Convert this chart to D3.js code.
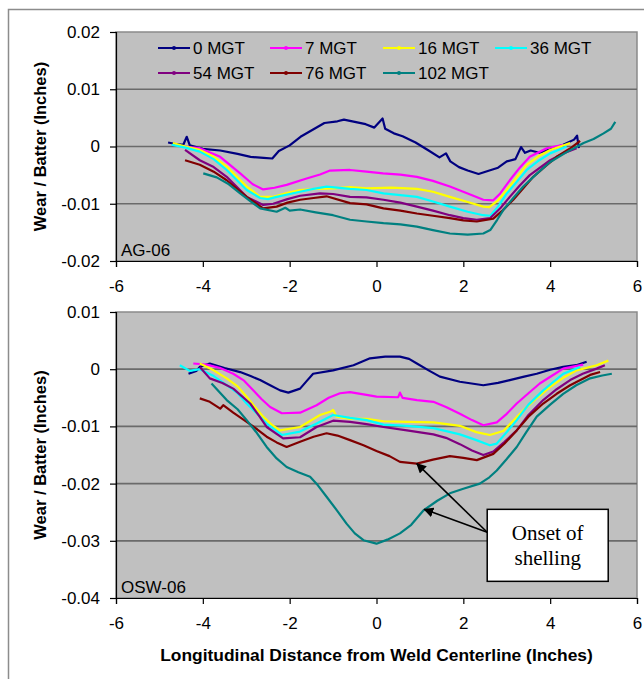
<!DOCTYPE html>
<html>
<head>
<meta charset="utf-8">
<script src="https://cdn.jsdelivr.net/npm/d3@7"></script>
<style>
  body { margin: 0; background: #fff; }
  svg { display: block; font-family: "Liberation Sans", Arial, sans-serif; }
</style>
</head>
<body>
<svg id="chart" width="644" height="679"></svg>
<script>
"use strict";

const seriesNames = ["0 MGT", "7 MGT", "16 MGT", "36 MGT", "54 MGT", "76 MGT", "102 MGT"];
const seriesColors = ["#000080", "#FF00FF", "#FFFF00", "#00FFFF", "#800080", "#800000", "#008080"];

const xTicks = [-6, -4, -2, 0, 2, 4, 6];
const xTickLabels = ["-6", "-4", "-2", "0", "2", "4", "6"];
const agTicks = [0.02, 0.01, 0, -0.01, -0.02];
const agTickLabels = ["0.02", "0.01", "0", "-0.01", "-0.02"];
const oswTicks = [0.01, 0, -0.01, -0.02, -0.03, -0.04];
const oswTickLabels = ["0.01", "0", "-0.01", "-0.02", "-0.03", "-0.04"];

// AG-06 profiles, [distance in, wear in]
const ag06_0 = [[-4.8,0.0007],[-4.6,0.0004],[-4.45,0.0003],[-4.37,0.0017],[-4.3,0.0002],[-4.0,-0.0004],[-3.6,-0.0007],[-3.2,-0.0013],[-2.9,-0.0018],[-2.6,-0.002],[-2.4,-0.0021],[-2.25,-0.0008],[-2.0,0.0002],[-1.75,0.0017],[-1.5,0.0028],[-1.2,0.0041],[-0.9,0.0044],[-0.75,0.0047],[-0.5,0.0043],[-0.25,0.0039],[-0.05,0.0033],[0.14,0.0049],[0.2,0.0031],[0.4,0.0023],[0.6,0.0018],[0.9,0.0007],[1.2,-0.0007],[1.45,-0.0019],[1.6,-0.0012],[1.7,-0.0026],[1.9,-0.0036],[2.1,-0.0042],[2.35,-0.0048],[2.6,-0.0042],[2.8,-0.0037],[3.0,-0.0026],[3.2,-0.0022],[3.33,-0.0001],[3.42,-0.0011],[3.55,-0.0007],[3.75,-0.0011],[4.0,-0.0005],[4.3,0.0003],[4.55,0.0012],[4.62,0.0019],[4.66,-0.0003]];
const ag06_7 = [[-4.45,0.0],[-4.07,-0.0003],[-3.6,-0.0018],[-3.14,-0.0047],[-2.85,-0.0066],[-2.61,-0.0075],[-2.35,-0.0072],[-2.07,-0.0067],[-1.61,-0.0056],[-1.3,-0.0049],[-1.07,-0.0042],[-0.61,-0.0041],[-0.23,-0.0044],[0.15,-0.0047],[0.55,-0.0049],[0.93,-0.0053],[1.3,-0.006],[1.69,-0.007],[2.1,-0.0082],[2.46,-0.0093],[2.69,-0.0094],[2.85,-0.0082],[3.07,-0.0059],[3.3,-0.0037],[3.53,-0.0018],[3.92,-0.0003],[4.3,0.0003]];
const ag06_16 = [[-4.69,0.0006],[-4.4,0.0],[-4.07,-0.0006],[-3.75,-0.0018],[-3.45,-0.0035],[-2.99,-0.007],[-2.68,-0.0088],[-2.38,-0.0088],[-2.05,-0.0081],[-1.76,-0.0076],[-1.4,-0.0074],[-1.0,-0.0073],[-0.61,-0.0071],[-0.23,-0.0073],[0.35,-0.0072],[0.93,-0.0074],[1.3,-0.0079],[1.69,-0.0088],[2.1,-0.0097],[2.46,-0.0105],[2.6,-0.0106],[2.8,-0.0094],[3.0,-0.0076],[3.25,-0.0052],[3.46,-0.0032],[3.75,-0.0016],[4.0,-0.0006],[4.46,0.0006]];
const ag06_36 = [[-4.72,0.0003],[-4.4,-0.0002],[-4.07,-0.0009],[-3.75,-0.0022],[-3.45,-0.0041],[-2.99,-0.0076],[-2.68,-0.009],[-2.5,-0.0092],[-2.3,-0.0088],[-1.76,-0.0079],[-1.45,-0.0074],[-1.15,-0.007],[-0.61,-0.0074],[-0.23,-0.0076],[0.16,-0.0082],[0.55,-0.0085],[0.93,-0.0088],[1.3,-0.0096],[1.69,-0.0105],[2.1,-0.0114],[2.46,-0.012],[2.62,-0.0121],[2.8,-0.0105],[3.0,-0.0082],[3.25,-0.006],[3.46,-0.0041],[3.75,-0.0024],[4.0,-0.0012],[4.38,0.0]];
const ag06_54 = [[-4.41,-0.0006],[-4.07,-0.0024],[-3.75,-0.0036],[-3.45,-0.0053],[-2.99,-0.0088],[-2.61,-0.0102],[-2.38,-0.01],[-2.05,-0.0092],[-1.76,-0.0086],[-1.3,-0.0082],[-1.0,-0.0083],[-0.61,-0.0088],[-0.23,-0.0089],[0.16,-0.0093],[0.55,-0.0098],[0.93,-0.0105],[1.3,-0.0112],[1.69,-0.012],[2.0,-0.0125],[2.31,-0.0128],[2.62,-0.0125],[2.85,-0.0108],[3.07,-0.0088],[3.3,-0.0068],[3.53,-0.005],[4.0,-0.0024],[4.3,-0.0012],[4.61,-0.0003]];
const ag06_76 = [[-4.41,-0.0024],[-4.07,-0.0032],[-3.75,-0.0044],[-3.45,-0.0059],[-2.99,-0.0088],[-2.61,-0.0108],[-2.3,-0.0105],[-2.05,-0.0098],[-1.76,-0.0093],[-1.45,-0.009],[-1.15,-0.0087],[-0.61,-0.0099],[-0.23,-0.0101],[0.16,-0.0108],[0.55,-0.0112],[0.93,-0.0117],[1.3,-0.0121],[1.69,-0.0125],[2.0,-0.0129],[2.31,-0.0131],[2.69,-0.0126],[2.9,-0.0112],[3.15,-0.0093],[3.38,-0.0073],[3.61,-0.0053],[3.9,-0.0034],[4.15,-0.0018],[4.45,-0.0004],[4.69,0.001]];
const ag06_102 = [[-3.99,-0.0047],[-3.68,-0.0054],[-3.4,-0.0066],[-3.14,-0.0082],[-2.9,-0.0096],[-2.68,-0.0108],[-2.3,-0.0114],[-2.1,-0.0107],[-2.0,-0.0112],[-1.76,-0.011],[-1.4,-0.0115],[-1.0,-0.012],[-0.61,-0.0128],[-0.23,-0.0131],[0.16,-0.0134],[0.55,-0.0136],[0.93,-0.014],[1.3,-0.0146],[1.69,-0.0152],[2.1,-0.0154],[2.46,-0.0152],[2.62,-0.0146],[2.78,-0.0128],[2.92,-0.0111],[3.15,-0.009],[3.38,-0.007],[3.7,-0.0047],[4.0,-0.0027],[4.4,-0.0009],[4.77,0.0006],[5.0,0.0013],[5.23,0.0023],[5.4,0.0031],[5.5,0.0043]];

// OSW-06 profiles, [distance in, wear in]
const osw06_0 = [[-4.33,-0.0008],[-4.15,-0.0003],[-4.07,0.0004],[-3.84,0.001],[-3.5,0.0002],[-3.14,-0.0005],[-2.9,-0.0012],[-2.68,-0.0019],[-2.45,-0.0028],[-2.22,-0.0037],[-2.03,-0.0041],[-1.76,-0.0034],[-1.6,-0.002],[-1.46,-0.0008],[-1.0,-0.0002],[-0.53,0.0007],[-0.15,0.0019],[0.2,0.0022],[0.54,0.0022],[0.75,0.0018],[0.93,0.001],[1.2,-0.0002],[1.46,-0.0013],[1.92,-0.0022],[2.46,-0.0028],[2.8,-0.0024],[3.07,-0.0019],[3.4,-0.0013],[3.69,-0.0008],[4.0,-0.0001],[4.3,0.0004],[4.6,0.0007],[4.84,0.0013]];
const osw06_7 = [[-4.22,0.001],[-3.91,0.0008],[-3.6,0.0002],[-3.3,-0.0008],[-3.05,-0.002],[-2.84,-0.0037],[-2.65,-0.0052],[-2.45,-0.0066],[-2.18,-0.0077],[-1.76,-0.0076],[-1.38,-0.0063],[-1.1,-0.005],[-0.84,-0.0042],[-0.61,-0.004],[-0.23,-0.0045],[0.0,-0.0048],[0.5,-0.0049],[0.54,-0.0041],[0.6,-0.005],[0.93,-0.0054],[1.31,-0.0057],[1.6,-0.0066],[1.92,-0.0078],[2.2,-0.0089],[2.46,-0.0098],[2.77,-0.0093],[3.0,-0.0078],[3.23,-0.006],[3.5,-0.0042],[3.76,-0.0025],[4.05,-0.0011],[4.3,0.0001],[4.76,0.0008]];
const osw06_16 = [[-4.07,0.001],[-3.75,-0.0002],[-3.45,-0.0016],[-3.2,-0.003],[-2.99,-0.0048],[-2.8,-0.0066],[-2.61,-0.0083],[-2.4,-0.0098],[-2.22,-0.0107],[-1.76,-0.0101],[-1.3,-0.008],[-1.05,-0.0074],[-1.0,-0.0071],[-0.92,-0.0083],[-0.61,-0.0087],[-0.23,-0.0087],[0.16,-0.0091],[0.7,-0.0092],[1.31,-0.0093],[1.92,-0.0099],[2.3,-0.011],[2.61,-0.0115],[2.92,-0.0108],[3.15,-0.009],[3.38,-0.0072],[3.7,-0.005],[4.0,-0.0031],[4.3,-0.0015],[4.61,-0.0002],[5.07,0.0007],[5.34,0.0015]];
const osw06_36 = [[-4.53,0.0007],[-4.3,-0.0003],[-4.07,0.0],[-3.75,-0.0012],[-3.45,-0.0028],[-3.2,-0.0042],[-2.99,-0.006],[-2.75,-0.0078],[-2.53,-0.0095],[-2.18,-0.0115],[-1.76,-0.0109],[-1.38,-0.0095],[-1.0,-0.008],[-0.61,-0.0085],[-0.23,-0.0089],[0.16,-0.0097],[0.7,-0.0099],[1.31,-0.0103],[1.92,-0.0114],[2.3,-0.0124],[2.61,-0.0133],[2.77,-0.013],[3.0,-0.011],[3.23,-0.0089],[3.5,-0.0062],[3.84,-0.0037],[4.3,-0.0008],[4.69,0.0004]];
const osw06_54 = [[-4.07,0.0004],[-3.84,-0.0016],[-3.55,-0.0024],[-3.3,-0.0034],[-2.91,-0.006],[-2.7,-0.0082],[-2.53,-0.0101],[-2.15,-0.0121],[-1.76,-0.0119],[-1.38,-0.0101],[-1.0,-0.009],[-0.61,-0.0092],[-0.23,-0.0096],[0.16,-0.0101],[0.7,-0.0107],[1.31,-0.0114],[1.6,-0.012],[1.92,-0.0131],[2.2,-0.0142],[2.46,-0.015],[2.69,-0.0144],[2.95,-0.0127],[3.23,-0.0107],[3.5,-0.008],[3.84,-0.0054],[4.15,-0.0035],[4.46,-0.0019],[4.75,-0.0008],[5.07,0.0001],[5.26,0.0007]];
const osw06_76 = [[-4.07,-0.0051],[-3.84,-0.0057],[-3.6,-0.0069],[-3.53,-0.0063],[-3.3,-0.0076],[-2.99,-0.0092],[-2.75,-0.0105],[-2.53,-0.0118],[-2.3,-0.0128],[-2.07,-0.0136],[-1.76,-0.0127],[-1.45,-0.0118],[-1.15,-0.0112],[-0.9,-0.0116],[-0.61,-0.0124],[-0.3,-0.0133],[0.0,-0.0143],[0.3,-0.0152],[0.54,-0.0162],[0.93,-0.0165],[1.3,-0.0158],[1.69,-0.0152],[2.0,-0.0155],[2.31,-0.0159],[2.69,-0.0148],[2.95,-0.013],[3.23,-0.0107],[3.5,-0.0083],[3.84,-0.006],[4.15,-0.0043],[4.46,-0.0028],[4.92,-0.001],[5.15,-0.0005]];
const osw06_102 = [[-3.8,-0.0025],[-3.45,-0.0054],[-3.2,-0.007],[-2.99,-0.0089],[-2.75,-0.0112],[-2.53,-0.0136],[-2.3,-0.0156],[-2.07,-0.0171],[-1.8,-0.018],[-1.53,-0.0188],[-1.35,-0.0203],[-1.15,-0.0223],[-0.9,-0.0248],[-0.69,-0.027],[-0.5,-0.0287],[-0.3,-0.0299],[0.0,-0.0305],[0.25,-0.0298],[0.54,-0.0287],[0.8,-0.0272],[1.08,-0.0247],[1.4,-0.023],[1.69,-0.0217],[2.0,-0.0209],[2.38,-0.02],[2.6,-0.0189],[2.77,-0.0177],[3.0,-0.0157],[3.23,-0.0136],[3.45,-0.011],[3.69,-0.0083],[4.0,-0.0062],[4.3,-0.0043],[4.6,-0.0028],[4.92,-0.0016],[5.2,-0.0011],[5.42,-0.0008]];

const agSeries = [ag06_0, ag06_7, ag06_16, ag06_36, ag06_54, ag06_76, ag06_102];
const oswSeries = [osw06_0, osw06_7, osw06_16, osw06_36, osw06_54, osw06_76, osw06_102];

const svg = d3.select("#chart");

// outer frame (only top and left edges are visible in the window)
svg.append("path")
    .attr("d", "M8.5,680 V9.5 H645")
    .attr("fill", "none")
    .attr("stroke", "#8c8c8c")
    .attr("stroke-width", 1.5);

const plotLeft = 116, plotRight = 637;

const x = d3.scaleLinear().domain([-6, 6]).range([plotLeft, plotRight]);

function drawPanel(top, bottom, yDomain, yTicks, yTickLabels, series, label) {
    const y = d3.scaleLinear().domain(yDomain).range([bottom, top]);
    const g = svg.append("g");

    g.append("rect")
        .attr("x", plotLeft).attr("y", top)
        .attr("width", plotRight - plotLeft).attr("height", bottom - top)
        .attr("fill", "#C0C0C0")
        .attr("stroke", "#8a8a8a")
        .attr("stroke-width", 1.5);

    // gridlines
    g.append("g").selectAll("line")
        .data(yTicks.slice(1, -1))
        .join("line")
        .attr("x1", plotLeft).attr("x2", plotRight)
        .attr("y1", d => y(d)).attr("y2", d => y(d))
        .attr("stroke", "#6a6a6a")
        .attr("stroke-width", 1.7);

    const yAxis = g.append("g")
        .attr("transform", `translate(${plotLeft},0)`)
        .call(d3.axisLeft(y).tickValues(yTicks).tickFormat((d, i) => yTickLabels[i]).tickSize(6).tickPadding(10));
    const xAxis = g.append("g")
        .attr("transform", `translate(0,${bottom})`)
        .call(d3.axisBottom(x).tickValues(xTicks).tickFormat((d, i) => xTickLabels[i]).tickSize(6).tickPadding(13));
    [yAxis, xAxis].forEach(ax => {
        ax.select(".domain").attr("stroke", "#000").attr("stroke-width", 1.2);
        ax.selectAll(".tick line").attr("stroke", "#000").attr("stroke-width", 1.2);
        ax.selectAll(".tick text")
            .attr("font-family", "'Liberation Sans', Arial, sans-serif")
            .attr("font-size", 17)
            .attr("fill", "#000");
    });

    const line = d3.line().x(d => x(d[0])).y(d => y(d[1]));
    g.append("g").selectAll("path")
        .data(series)
        .join("path")
        .attr("d", line)
        .attr("fill", "none")
        .attr("stroke", (d, i) => seriesColors[i])
        .attr("stroke-width", 2.2)
        .attr("stroke-linejoin", "round");

    g.append("text")
        .attr("x", plotLeft + 5).attr("y", bottom - 5)
        .attr("font-size", 17)
        .text(label);

    g.append("text")
        .attr("transform", `translate(46,${(top + bottom) / 2}) rotate(-90)`)
        .attr("text-anchor", "middle")
        .attr("font-size", 16.5)
        .attr("font-weight", "bold")
        .text("Wear / Batter (Inches)");

    return y;
}

drawPanel(32, 261, [-0.02, 0.02], agTicks, agTickLabels, agSeries, "AG-06");
const yOsw = drawPanel(312, 598, [-0.04, 0.01], oswTicks, oswTickLabels, oswSeries, "OSW-06");

// legend
const legendCols = [158, 270, 383, 495];
const legendRows = [48, 73];
const legend = svg.append("g").selectAll("g")
    .data(seriesNames)
    .join("g")
    .attr("transform", (d, i) => `translate(${legendCols[i % 4]},${legendRows[Math.floor(i / 4)]})`);
legend.append("line")
    .attr("x1", 0).attr("x2", 32)
    .attr("stroke", (d, i) => seriesColors[i])
    .attr("stroke-width", 2);
legend.append("circle")
    .attr("cx", 16).attr("r", 2)
    .attr("fill", (d, i) => seriesColors[i]);
legend.append("text")
    .attr("x", 35).attr("dy", "0.35em")
    .attr("font-size", 17)
    .text(d => d);

// x axis title
svg.append("text")
    .attr("x", (plotLeft + plotRight) / 2).attr("y", 661)
    .attr("text-anchor", "middle")
    .attr("font-size", 17.4)
    .attr("font-weight", "bold")
    .text("Longitudinal Distance from Weld Centerline (Inches)");

// annotation: onset of shelling
const defs = svg.append("defs");
defs.append("marker")
    .attr("id", "arrow")
    .attr("viewBox", "0 0 10 10")
    .attr("refX", 9).attr("refY", 5)
    .attr("markerWidth", 10).attr("markerHeight", 10)
    .attr("markerUnits", "userSpaceOnUse")
    .attr("orient", "auto")
    .append("path")
    .attr("d", "M0,0 L10,5 L0,10 z")
    .attr("fill", "#000");

const arrowStart = [2.55, -0.0285];
const arrowTips = [[0.93, -0.0165], [1.1, -0.0245]];
svg.append("g").selectAll("line")
    .data(arrowTips)
    .join("line")
    .attr("x1", x(arrowStart[0])).attr("y1", yOsw(arrowStart[1]))
    .attr("x2", d => x(d[0])).attr("y2", d => yOsw(d[1]))
    .attr("stroke", "#000")
    .attr("stroke-width", 1.6)
    .attr("marker-end", "url(#arrow)");

const boxX = x(2.55), boxY = yOsw(-0.0245);
svg.append("rect")
    .attr("x", boxX).attr("y", boxY)
    .attr("width", 121).attr("height", 72)
    .attr("fill", "#fff")
    .attr("stroke", "#000")
    .attr("stroke-width", 1.5);
svg.append("g")
    .attr("font-family", "'Liberation Serif', 'Times New Roman', serif")
    .attr("font-size", 21)
    .attr("text-anchor", "middle")
    .selectAll("text")
    .data(["Onset of", "shelling"])
    .join("text")
    .attr("x", boxX + 60.5)
    .attr("y", (d, i) => boxY + 31 + i * 25)
    .text(d => d);
</script>
</body>
</html>
